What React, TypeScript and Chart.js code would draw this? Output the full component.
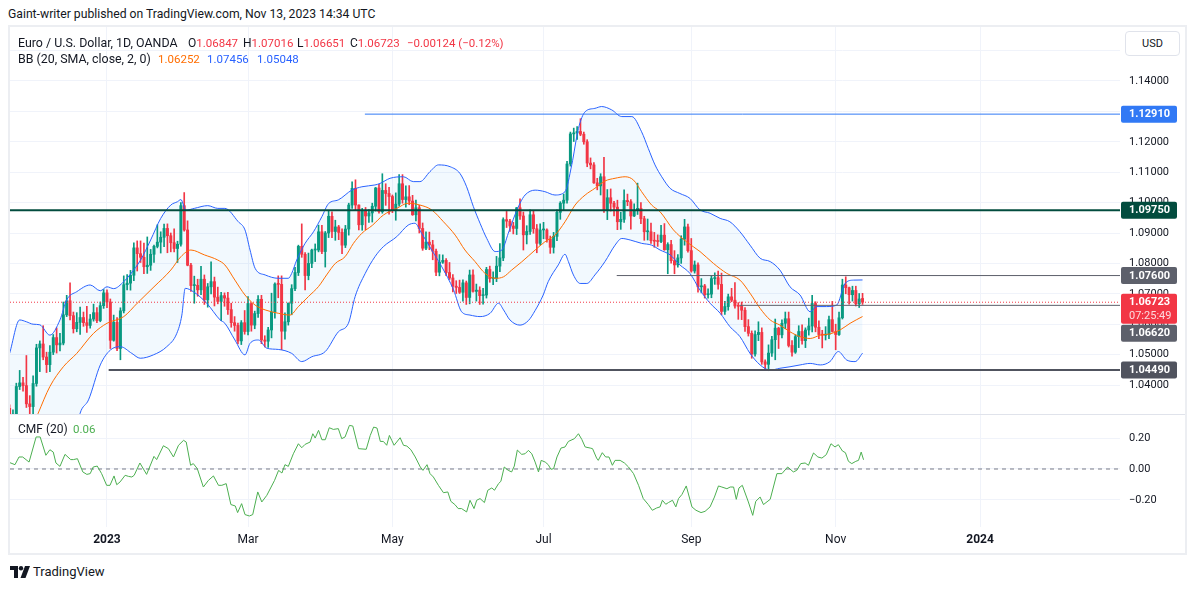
import { useEffect, useRef } from "react";
import { Chart, registerables } from "chart.js";

Chart.register(...registerables);

// daily EUR/USD candles, 21 Nov 2022 .. 13 Nov 2023 (array index = bar index)
const opens = [
  1.0323, 1.0243, 1.0304, 1.0395, 1.0407, 1.0398, 1.0338, 1.0329, 1.0405, 1.0522,
  1.0535, 1.0492, 1.0467, 1.0508, 1.0556, 1.0532, 1.0538, 1.0631, 1.0677, 1.0628,
  1.0585, 1.0606, 1.0622, 1.0605, 1.0596, 1.0617, 1.0638, 1.0612, 1.0661, 1.0703,
  1.0673, 1.0547, 1.0606, 1.052, 1.0644, 1.073, 1.0735, 1.0761, 1.0851, 1.0832,
  1.082, 1.0789, 1.0794, 1.083, 1.0856, 1.087, 1.0886, 1.0915, 1.0891, 1.0868,
  1.0849, 1.0863, 1.099, 1.091, 1.0794, 1.0727, 1.0728, 1.0713, 1.0748, 1.068,
  1.0723, 1.074, 1.0689, 1.0675, 1.0694, 1.0686, 1.0648, 1.0605, 1.0596, 1.0545,
  1.0605, 1.0576, 1.0668, 1.0597, 1.0635, 1.0682, 1.0548, 1.0544, 1.0581, 1.064,
  1.0732, 1.0731, 1.0577, 1.0608, 1.0669, 1.0717, 1.077, 1.0856, 1.083, 1.076,
  1.08, 1.0844, 1.0844, 1.0904, 1.0839, 1.09, 1.0955, 1.0905, 1.092, 1.0902,
  1.086, 1.0913, 1.0992, 1.1047, 1.0992, 1.0927, 1.0972, 1.0956, 1.0966, 1.0988,
  1.1048, 1.097, 1.104, 1.103, 1.102, 1.0976, 1.0995, 1.1062, 1.101, 1.1019,
  1.1005, 1.096, 1.0983, 1.0915, 1.085, 1.087, 1.0861, 1.084, 1.0771, 1.0804,
  1.081, 1.077, 1.0752, 1.0725, 1.0721, 1.0705, 1.0736, 1.0688, 1.0762, 1.0708,
  1.0712, 1.0694, 1.0696, 1.078, 1.075, 1.0751, 1.0791, 1.0818, 1.0944, 1.0939,
  1.0923, 1.0915, 1.0983, 1.0956, 1.0894, 1.0905, 1.096, 1.0914, 1.0866, 1.091,
  1.091, 1.088, 1.0853, 1.0889, 1.0968, 1.0998, 1.1008, 1.1127, 1.1226, 1.1229,
  1.1234, 1.1225, 1.12, 1.113, 1.1124, 1.1065, 1.1055, 1.1085, 1.0977, 1.1016,
  1.0998, 1.0985, 1.0937, 1.0945, 1.1007, 1.1003, 1.0956, 1.0975, 1.0981, 1.0947,
  1.0904, 1.0904, 1.0875, 1.0873, 1.0872, 1.0893, 1.0845, 1.0862, 1.0809, 1.0795,
  1.0818, 1.088, 1.092, 1.0842, 1.0775, 1.0795, 1.0723, 1.0726, 1.0697, 1.0699,
  1.075, 1.0753, 1.0731, 1.0642, 1.0658, 1.069, 1.0679, 1.066, 1.0659, 1.0646,
  1.0592, 1.057, 1.0502, 1.0566, 1.0573, 1.0476, 1.0468, 1.0505, 1.0549, 1.0587,
  1.0565, 1.0603, 1.0618, 1.053, 1.0508, 1.0559, 1.0576, 1.0546, 1.0581, 1.0594,
  1.0668, 1.059, 1.0566, 1.0564, 1.0566, 1.0615, 1.0576, 1.0566, 1.0621, 1.0729,
  1.072, 1.0697, 1.0711, 1.0667, 1.06847,
];
const highs = [
  1.0335, 1.0318, 1.0406, 1.0448, 1.0425, 1.0497, 1.0365, 1.043, 1.0534, 1.0545,
  1.0595, 1.0508, 1.053, 1.0566, 1.0588, 1.057, 1.0673, 1.0695, 1.0736, 1.064,
  1.0638, 1.0656, 1.064, 1.0659, 1.0632, 1.0666, 1.0655, 1.0673, 1.0714, 1.0713,
  1.0683, 1.063, 1.0622, 1.0654, 1.0759, 1.0763, 1.0777, 1.0868, 1.0874, 1.0874,
  1.0867, 1.0887, 1.0846, 1.086, 1.0927, 1.0904, 1.0929, 1.093, 1.09, 1.0914,
  1.0873, 1.1, 1.1033, 1.094, 1.08, 1.0758, 1.0748, 1.079, 1.0762, 1.0734,
  1.0805, 1.0755, 1.0722, 1.0705, 1.0703, 1.0705, 1.0669, 1.0625, 1.0604, 1.0612,
  1.0645, 1.0691, 1.067, 1.0643, 1.0694, 1.0695, 1.0562, 1.059, 1.0702, 1.0736,
  1.0759, 1.0759, 1.0637, 1.067, 1.073, 1.0787, 1.086, 1.093, 1.0836, 1.0834,
  1.0847, 1.0864, 1.0926, 1.0925, 1.0905, 1.0973, 1.097, 1.0942, 1.0925, 1.0914,
  1.0925, 1.0998, 1.1068, 1.1075, 1.0993, 1.0981, 1.0984, 1.0977, 1.0998, 1.105,
  1.106, 1.1095, 1.1062, 1.105, 1.1025, 1.1032, 1.1092, 1.1092, 1.1055, 1.1056,
  1.1024, 1.1008, 1.0991, 1.0933, 1.0904, 1.0903, 1.0876, 1.0847, 1.0829, 1.0828,
  1.0816, 1.0803, 1.0763, 1.0743, 1.0745, 1.0746, 1.0742, 1.0778, 1.0779, 1.0732,
  1.0723, 1.0718, 1.0787, 1.0791, 1.0772, 1.0823, 1.0865, 1.095, 1.0971, 1.0945,
  1.0935, 1.0984, 1.1012, 1.0969, 1.0924, 1.0976, 1.0973, 1.0928, 1.093, 1.0935,
  1.0914, 1.089, 1.0902, 1.0976, 1.1003, 1.1028, 1.1136, 1.1232, 1.1245, 1.125,
  1.1276, 1.1232, 1.1207, 1.1147, 1.1132, 1.108, 1.1095, 1.1149, 1.1043, 1.1045,
  1.1004, 1.1008, 1.0968, 1.1042, 1.1028, 1.101, 1.0996, 1.1064, 1.1, 1.0955,
  1.0946, 1.0933, 1.0902, 1.0894, 1.0925, 1.0931, 1.0868, 1.0876, 1.0842, 1.0829,
  1.0891, 1.0945, 1.0929, 1.0882, 1.0808, 1.0802, 1.075, 1.0731, 1.0716, 1.0759,
  1.0769, 1.0775, 1.0768, 1.0675, 1.0699, 1.0718, 1.0737, 1.0671, 1.0673, 1.0655,
  1.0615, 1.0578, 1.0578, 1.0608, 1.0588, 1.0483, 1.0532, 1.056, 1.0617, 1.059,
  1.0614, 1.064, 1.064, 1.0546, 1.0565, 1.0595, 1.0598, 1.0588, 1.062, 1.0695,
  1.0674, 1.0611, 1.058, 1.0592, 1.0627, 1.0675, 1.06, 1.064, 1.0748, 1.0756,
  1.0722, 1.0725, 1.0725, 1.0701, 1.07016,
];
const lows = [
  1.0223, 1.0226, 1.0286, 1.0385, 1.038, 1.0326, 1.029, 1.0289, 1.0396, 1.0444,
  1.0483, 1.0441, 1.0444, 1.05, 1.0505, 1.0512, 1.0532, 1.0625, 1.0614, 1.0571,
  1.0575, 1.0566, 1.0593, 1.0573, 1.0587, 1.061, 1.0605, 1.0608, 1.0652, 1.0654,
  1.052, 1.0544, 1.0513, 1.0483, 1.0637, 1.0713, 1.0712, 1.0743, 1.0775, 1.0803,
  1.0766, 1.0767, 1.0777, 1.0803, 1.0851, 1.0834, 1.0855, 1.0835, 1.0838, 1.0838,
  1.0803, 1.0857, 1.0906, 1.0792, 1.0708, 1.0669, 1.0692, 1.0697, 1.0665, 1.0656,
  1.07, 1.066, 1.0667, 1.0612, 1.0659, 1.0632, 1.059, 1.0577, 1.0535, 1.0533,
  1.0567, 1.0565, 1.0577, 1.0585, 1.0622, 1.0536, 1.0525, 1.0524, 1.0555, 1.062,
  1.0687, 1.0516, 1.0551, 1.0597, 1.0631, 1.071, 1.076, 1.082, 1.0713, 1.0746,
  1.0786, 1.0806, 1.0838, 1.0832, 1.0788, 1.0885, 1.0885, 1.0876, 1.0878, 1.0832,
  1.0852, 1.0893, 1.0981, 1.0974, 1.091, 1.0909, 1.0911, 1.0935, 1.0936, 1.0972,
  1.0965, 1.0965, 1.0991, 1.0962, 1.0967, 1.0942, 1.0988, 1.0998, 1.0985, 1.0993,
  1.0958, 1.094, 1.09, 1.0843, 1.0845, 1.0845, 1.0812, 1.076, 1.0759, 1.08,
  1.076, 1.0747, 1.0706, 1.0701, 1.0701, 1.0676, 1.0665, 1.0667, 1.0705, 1.0676,
  1.0665, 1.0666, 1.0686, 1.0738, 1.073, 1.074, 1.0773, 1.0809, 1.0918, 1.0905,
  1.0897, 1.0895, 1.0945, 1.0844, 1.0864, 1.0895, 1.0899, 1.0835, 1.086, 1.0881,
  1.087, 1.0833, 1.0834, 1.0875, 1.0945, 1.0976, 1.0998, 1.112, 1.1201, 1.1208,
  1.122, 1.1192, 1.1118, 1.1111, 1.1063, 1.1042, 1.1025, 1.0968, 1.0944, 1.0972,
  1.0956, 1.0911, 1.0912, 1.0935, 1.099, 1.0913, 1.0954, 1.0961, 1.0931, 1.0876,
  1.0877, 1.0866, 1.0853, 1.0856, 1.0868, 1.0843, 1.0766, 1.0801, 1.0766, 1.0788,
  1.08, 1.086, 1.0837, 1.0771, 1.0768, 1.0705, 1.0703, 1.0686, 1.0686, 1.0687,
  1.0731, 1.0715, 1.0631, 1.0632, 1.0646, 1.0674, 1.0653, 1.0616, 1.0615, 1.0576,
  1.0561, 1.0488, 1.0495, 1.0546, 1.0468, 1.0448, 1.0447, 1.0494, 1.0483, 1.052,
  1.0555, 1.0585, 1.0525, 1.0495, 1.0504, 1.0523, 1.0534, 1.0523, 1.0564, 1.0575,
  1.0575, 1.0552, 1.0522, 1.0548, 1.0552, 1.0574, 1.0516, 1.0563, 1.0617, 1.07,
  1.0666, 1.0676, 1.066, 1.0655, 1.06651,
];
const closes = [
  1.0243, 1.0304, 1.0395, 1.0407, 1.0398, 1.0338, 1.0329, 1.0405, 1.0522, 1.0535,
  1.0492, 1.0467, 1.0508, 1.0556, 1.0532, 1.0538, 1.0631, 1.0677, 1.0628, 1.0585,
  1.0606, 1.0622, 1.0605, 1.0596, 1.0617, 1.0638, 1.0612, 1.0661, 1.0703, 1.0673,
  1.0547, 1.0606, 1.052, 1.0644, 1.073, 1.0735, 1.0761, 1.0851, 1.0832, 1.082,
  1.0789, 1.0794, 1.083, 1.0856, 1.087, 1.0886, 1.0915, 1.0891, 1.0868, 1.0849,
  1.0863, 1.099, 1.091, 1.0794, 1.0727, 1.0728, 1.0713, 1.0748, 1.068, 1.0723,
  1.074, 1.0689, 1.0675, 1.0694, 1.0686, 1.0648, 1.0605, 1.0596, 1.0545, 1.0605,
  1.0576, 1.0668, 1.0597, 1.0635, 1.0682, 1.0548, 1.0544, 1.0581, 1.064, 1.0732,
  1.0731, 1.0577, 1.0608, 1.0669, 1.0717, 1.077, 1.0856, 1.083, 1.076, 1.08,
  1.0844, 1.0844, 1.0904, 1.0839, 1.09, 1.0955, 1.0905, 1.092, 1.0902, 1.086,
  1.0913, 1.0992, 1.1047, 1.0992, 1.0927, 1.0972, 1.0956, 1.0966, 1.0988, 1.1048,
  1.097, 1.104, 1.103, 1.102, 1.0976, 1.0995, 1.1062, 1.101, 1.1019, 1.1005,
  1.096, 1.0983, 1.0915, 1.085, 1.087, 1.0861, 1.084, 1.0771, 1.0804, 1.081,
  1.077, 1.0752, 1.0725, 1.0721, 1.0705, 1.0736, 1.0688, 1.0762, 1.0708, 1.0712,
  1.0694, 1.0696, 1.078, 1.075, 1.0751, 1.0791, 1.0818, 1.0944, 1.0939, 1.0923,
  1.0915, 1.0983, 1.0956, 1.0894, 1.0905, 1.096, 1.0914, 1.0866, 1.091, 1.091,
  1.088, 1.0853, 1.0889, 1.0968, 1.0998, 1.1008, 1.1127, 1.1226, 1.1229, 1.1234,
  1.1225, 1.12, 1.113, 1.1124, 1.1065, 1.1055, 1.1085, 1.0977, 1.1016, 1.0998,
  1.0985, 1.0937, 1.0945, 1.1007, 1.1003, 1.0956, 1.0975, 1.0981, 1.0947, 1.0904,
  1.0904, 1.0875, 1.0873, 1.0872, 1.0893, 1.0845, 1.0862, 1.0809, 1.0795, 1.0818,
  1.088, 1.092, 1.0842, 1.0775, 1.0795, 1.0723, 1.0726, 1.0697, 1.0699, 1.075,
  1.0753, 1.0731, 1.0642, 1.0658, 1.069, 1.0679, 1.066, 1.0659, 1.0646, 1.0592,
  1.057, 1.0502, 1.0566, 1.0573, 1.0476, 1.0468, 1.0505, 1.0549, 1.0587, 1.0565,
  1.0603, 1.0618, 1.053, 1.0508, 1.0559, 1.0576, 1.0546, 1.0581, 1.0594, 1.0668,
  1.059, 1.0566, 1.0564, 1.0566, 1.0615, 1.0576, 1.0566, 1.0621, 1.0729, 1.072,
  1.0697, 1.0711, 1.0667, 1.0683, 1.06723,
];

// Bollinger bands (20, 2) as [bar, price]
const bbUpper = [
  [0, 1.0504], [3, 1.0614], [5, 1.0608], [7, 1.06], [9, 1.0598], [12, 1.0564], [15, 1.0614],
  [17, 1.068], [20, 1.0707], [24, 1.0729], [27, 1.071], [29, 1.0723], [31, 1.0717], [34, 1.074],
  [36, 1.0765], [39, 1.0811], [42, 1.0877], [45, 1.0948], [48, 1.0992], [50, 1.1003], [51, 1.101],
  [52.5, 1.0975], [55, 1.0981], [59, 1.099], [62, 1.0981], [64.1, 1.0981], [68.1, 1.0937],
  [70.1, 1.091], [71.6, 1.0844], [73.1, 1.0784], [76.1, 1.0762], [80, 1.0751], [83, 1.0751],
  [84, 1.0767], [85.5, 1.0811], [88, 1.0866], [90.5, 1.0904], [93, 1.0954], [95, 1.0997],
  [97.9, 1.1009], [101.9, 1.1041], [104.9, 1.1052], [108.8, 1.1058], [110.3, 1.1063],
  [113.3, 1.108], [117.3, 1.1085], [120.2, 1.1069], [122.2, 1.1069], [125.2, 1.1102],
  [127.7, 1.1124], [131.2, 1.1118], [134.1, 1.1096], [136.1, 1.1052], [138.1, 1.0987],
  [140.1, 1.0932], [142.1, 1.0882], [144.6, 1.0839], [146.6, 1.0844], [148.5, 1.0899],
  [150.5, 1.096], [152, 1.0998], [153.5, 1.1025], [156.5, 1.1041], [159.4, 1.1036],
  [162.4, 1.1025], [165.4, 1.1036], [167.4, 1.1124], [169.4, 1.1244], [171.4, 1.1299],
  [174.3, 1.131], [176.3, 1.1316], [179.3, 1.1305], [182.3, 1.1283], [185.3, 1.1283],
  [188.2, 1.1233], [190.2, 1.1178], [192.2, 1.1124], [194.2, 1.1085], [196.7, 1.1047],
  [199.6, 1.103], [202.6, 1.1014], [205.6, 1.0976], [208.6, 1.0965], [211.6, 1.0948],
  [214.5, 1.0937], [217.5, 1.0904], [220.5, 1.086], [223.5, 1.0817], [226.5, 1.0806],
  [229.4, 1.0778], [232.4, 1.0723], [235.4, 1.0696], [238.4, 1.0641], [240.4, 1.0658],
  [243.3, 1.0658], [246.3, 1.0663], [248.8, 1.0734], [251.3, 1.0745], [254, 1.07456],
];
const bbBasis = [
  [0, 1.0096], [4, 1.019], [8.5, 1.0307], [12, 1.0395], [16, 1.046], [20, 1.0504], [25, 1.057],
  [29, 1.0603], [34, 1.0625], [38, 1.0669], [43, 1.0723], [48, 1.0778], [51, 1.0822],
  [54, 1.0844], [58, 1.0828], [62, 1.0811], [64.1, 1.0795], [67.1, 1.0745], [70.1, 1.0696],
  [73.1, 1.0663], [76.1, 1.0647], [80, 1.0636], [83.5, 1.063], [86, 1.0658], [89, 1.0691],
  [92, 1.0724], [94.4, 1.0762], [97, 1.08], [99.9, 1.0822], [102.4, 1.0866], [104.9, 1.0899],
  [108, 1.0925], [111.3, 1.0959], [115.3, 1.0981], [118.7, 1.0998], [122.2, 1.0992],
  [125.7, 1.0976], [129.2, 1.0937], [132.7, 1.0893], [135.6, 1.0844], [138.6, 1.0806],
  [141.6, 1.0767], [144.6, 1.0751], [147.1, 1.0756], [149.5, 1.0778], [152.5, 1.0805],
  [156.5, 1.0844], [159.4, 1.0871], [162.4, 1.0893], [165.4, 1.0937], [168.4, 1.0992],
  [171.4, 1.1025], [174.3, 1.1047], [177.3, 1.1071], [180.3, 1.108], [183.3, 1.1085],
  [185.8, 1.1074], [188.2, 1.1036], [191.2, 1.0992], [193.7, 1.097], [197.7, 1.091],
  [201.6, 1.0871], [205.6, 1.0839], [209.6, 1.08], [213.6, 1.0767], [217.5, 1.0745],
  [220.5, 1.0702], [223.5, 1.0652], [226.5, 1.0614], [229.4, 1.0597], [232.4, 1.0575],
  [235.4, 1.0559], [238.4, 1.0553], [241.4, 1.0564], [244.3, 1.0568], [247.3, 1.0581],
  [250.3, 1.0603], [254, 1.06252],
];
const bbLower = [
  [0, 0.969], [5, 0.975], [10, 0.988], [15, 1.005], [19, 1.02], [21, 1.0307], [23.5, 1.0351],
  [27, 1.0466], [30, 1.0515], [33, 1.0526], [36.4, 1.0504], [38.9, 1.0488], [42.8, 1.0499],
  [46.8, 1.0526], [49.8, 1.057], [51.3, 1.063], [52.3, 1.0718], [54.7, 1.0707], [58.7, 1.0669],
  [62.7, 1.0614], [64.1, 1.0603], [67.1, 1.0548], [70.1, 1.0499], [71.6, 1.0537], [74.1, 1.0548],
  [76.6, 1.0521], [80, 1.0517], [84, 1.0504], [87, 1.0477], [90, 1.0493], [94, 1.051],
  [97.9, 1.0575], [100.9, 1.0603], [102.9, 1.0691], [105.9, 1.0767], [108.8, 1.0822],
  [111.3, 1.0855], [115.3, 1.0888], [118.7, 1.0926], [120.7, 1.0932], [122.7, 1.0899],
  [125.7, 1.0844], [128.7, 1.0789], [132.2, 1.0713], [134.6, 1.0641], [137.1, 1.063],
  [140.1, 1.0625], [143.1, 1.0636], [145.6, 1.0669], [147.1, 1.0647], [149, 1.0614],
  [152, 1.0597], [154.5, 1.0612], [156.5, 1.0645], [158.9, 1.0696], [160.4, 1.074],
  [163.4, 1.0795], [165.4, 1.083], [166.4, 1.0806], [167.9, 1.0762], [169.9, 1.0734],
  [171.9, 1.0734], [174.3, 1.0762], [177.3, 1.0806], [180.3, 1.086], [182.3, 1.0882],
  [184.8, 1.0877], [188.2, 1.0866], [191.2, 1.086], [193.7, 1.0844], [196.7, 1.0828],
  [199.6, 1.0795], [202.6, 1.0767], [205.6, 1.0712], [208.6, 1.0669], [211.6, 1.0636],
  [214.5, 1.0592], [217.5, 1.0559], [220.5, 1.0504], [223.5, 1.0466], [226.5, 1.0449],
  [229.4, 1.0455], [232.4, 1.046], [235.4, 1.0466], [238.4, 1.0471], [241.4, 1.0466],
  [244.3, 1.0477], [246.8, 1.051], [249.3, 1.0482], [251.8, 1.0477], [254, 1.05048],
];

// Chaikin Money Flow (20) as [bar, value]
const cmf = [
  [0.1, 0.041], [1.6, 0.028], [2.8, 0.078], [3.9, 0.078], [5.8, 0.045], [7.9, 0.208], [9.1, 0.208],
  [10.8, 0.089], [12, 0.125], [13, 0.11], [13.8, 0.039], [15, 0.017], [16.5, 0.095], [18.2, 0.061],
  [19, 0.061], [20.2, 0.067], [21.8, -0.019], [23, -0.035], [24, -0.03], [24.9, 0.013],
  [26.1, 0.019], [27.4, -0.03], [28.9, -0.106], [29.9, -0.106], [31.1, -0.045], [31.9, -0.102],
  [32.9, -0.084], [34.4, -0.041], [35.4, -0.048], [36.4, -0.052], [37.1, -0.041], [38.8, 0.039],
  [40.8, -0.035], [43, 0.082], [43.8, 0.061], [45.8, 0.151], [47.3, 0.132], [48.8, 0.078],
  [50.3, 0.154], [51.8, 0.186], [52.6, 0.175], [53.9, 0.024], [54.7, 0.035], [55.9, 0.002],
  [57.7, -0.117], [59.2, -0.074], [60.7, -0.045], [62.2, -0.106], [63.2, -0.106], [64.5, -0.095],
  [65.9, -0.231], [67.2, -0.24], [67.9, -0.283], [69.1, -0.225], [70.1, -0.296], [71.4, -0.305],
  [72.4, -0.296], [73.9, -0.149], [75.1, -0.214], [76.6, -0.171], [78.9, -0.074], [80.1, -0.009],
  [81.1, -0.026], [82, 0.028], [83, 0.017], [84.5, 0.099], [86, 0.164], [87, 0.138], [88, 0.16],
  [89.5, 0.175], [90.3, 0.229], [91, 0.201], [92, 0.251], [93, 0.19], [94, 0.19], [95.2, 0.268],
  [96.4, 0.257], [97.9, 0.262], [98.9, 0.197], [99.9, 0.208], [101.2, 0.283], [102.2, 0.279],
  [103.9, 0.132], [106.2, 0.128], [107.4, 0.218], [108.4, 0.272], [109.4, 0.266], [110.4, 0.179],
  [111.3, 0.179], [112.3, 0.154], [113.1, 0.218], [113.8, 0.186], [114.5, 0.154], [116.3, 0.203],
  [117.3, 0.154], [118.3, 0.149], [119.5, 0.125], [120.8, 0.078], [122.3, 0.013], [123.1, -0.009],
  [124.3, 0.028], [125.2, -0.03], [126.2, -0.052], [127.7, -0.106], [129.2, -0.154],
  [130.5, -0.149], [131.4, -0.21], [132.6, -0.231], [133.6, -0.257], [134.6, -0.257],
  [136.1, -0.279], [137.1, -0.203], [138.3, -0.257], [139.1, -0.203], [140.1, -0.192],
  [141.4, -0.218], [142.4, -0.138], [143.6, -0.123], [144.4, -0.138], [145.6, -0.095],
  [146.3, -0.08], [147.3, 0.013], [148.5, -0.009], [149.5, -0.019], [150.3, 0.019], [151.2, 0.123],
  [152.5, 0.095], [153.5, 0.099], [154.5, 0.121], [155.5, 0.099], [156.5, 0.045], [157.5, -0.019],
  [158.3, 0.056], [159.5, 0.045], [160.4, 0.028], [161.2, -0.002], [162, 0.002], [163, 0.078],
  [164.2, 0.136], [165.4, 0.143], [166.4, 0.179], [168.2, 0.197], [169.4, 0.229], [170.4, 0.192],
  [171.4, 0.143], [172.9, 0.136], [173.6, 0.132], [174.8, 0.071], [175.3, 0.056], [176.5, 0.106],
  [177.5, 0.078], [178.5, 0.078], [179.5, 0.024], [180.3, 0.056], [181.8, 0.056], [183.1, 0.039],
  [184.3, 0.013], [185.8, -0.03], [187.3, -0.106], [188.7, -0.192], [190.2, -0.231],
  [191.4, -0.268], [192.7, -0.253], [193.7, -0.246], [194.4, -0.203], [195.4, -0.229],
  [196.2, -0.218], [197.4, -0.203], [198.4, -0.246], [199.2, -0.192], [200.2, -0.166],
  [201.5, -0.11], [203.2, -0.246], [204.4, -0.268], [205.9, -0.283], [207.1, -0.275],
  [208.6, -0.246], [209.9, -0.182], [211.1, -0.11], [212.1, -0.117], [213.6, -0.128],
  [214.6, -0.117], [215.6, -0.117], [216.4, -0.197], [217.2, -0.123], [218.2, -0.106],
  [220, -0.214], [221.3, -0.301], [222.2, -0.21], [223.5, -0.182], [224.5, -0.231],
  [226.5, -0.197], [228.5, -0.03], [230, -0.03], [231.7, 0.013], [233.4, -0.019], [234.4, -0.009],
  [235.6, 0.035], [236.9, 0.039], [237.9, 0.024], [239.4, 0.104], [240.7, 0.078], [241.9, 0.071],
  [243.2, 0.093], [244.6, 0.164], [245.8, 0.143], [246.8, 0.158], [248, 0.117], [248.9, 0.106],
  [249.8, 0.05], [250.8, 0.035], [252, 0.05], [252.8, 0.056], [253.6, 0.11], [254.3, 0.06],
];

// horizontal levels drawn on the chart, and the bar each one starts from
const levelValues = [1.1291, 1.0975, 1.076, 1.0662, 1.0449];
const levelStarts = [105.8, 0, 180.8, 217.5, 29.5];
const lastPrice = 1.06723;
const countdown = "07:25:49";

const priceTicks = [1.04, 1.05, 1.06, 1.07, 1.08, 1.09, 1.1, 1.11, 1.12, 1.13, 1.14, 1.15];
const cmfTicks = [0.2, 0, -0.2];
const cmfTickLabels = ["0.20", "0.00", "\u22120.20"];
const monthTicks = [29, 71, 114, 159, 203, 246, 289];
const monthLabels = ["2023", "Mar", "May", "Jul", "Sep", "Nov", "2024"];

const X_MIN = 0.119;
const X_MAX = 330.67;
const P_MIN = 1.030461;
const P_MAX = 1.157763;
const C_MIN = -0.3766;
const C_MAX = 0.3506;

const FONT = "Roboto, sans-serif";
const TEXT = "#131722";
const GRID = "#f0f3fa";
const UP = "#089981";
const DOWN = "#f23645";
const BLUE = "#2962ff";
const ORANGE = "#ff6d00";
const CMF_GREEN = "#4caf50";
const levelStyles = [
  { color: "#3179f5", width: 1 },
  { color: "#024c3e", width: 2 },
  { color: "#5d606b", width: 1 },
  { color: "#5d606b", width: 1 },
  { color: "#50535e", width: 2 },
];

Chart.defaults.font.family = FONT;

const monthAxis = (height: number, showLabels: boolean) => ({
  type: "linear" as const,
  min: X_MIN,
  max: X_MAX,
  offset: false,
  afterBuildTicks: (a: any) => {
    a.ticks = monthTicks.map((value) => ({ value }));
  },
  afterFit: (a: any) => {
    a.height = height;
    a.paddingLeft = 0;
    a.paddingRight = 0;
  },
  ticks: {
    display: showLabels,
    padding: 6,
    color: TEXT,
    maxRotation: 0,
    autoSkip: false,
    font: (c: any) => ({ size: 12, weight: /^\d/.test(monthLabels[c.index] || "") ? "bold" : "normal" }),
    callback: (_v: any, i: number) => monthLabels[i],
  },
  grid: { color: GRID, drawTicks: false, offset: false },
  border: { display: false },
});

const rightAxis = (min: number, max: number, ticks: number[], label: (v: number, i: number) => string) => ({
  position: "right" as const,
  min,
  max,
  beginAtZero: false,
  afterBuildTicks: (a: any) => {
    a.ticks = ticks.map((value) => ({ value }));
  },
  afterFit: (a: any) => {
    a.width = 65;
    a.paddingTop = 0;
    a.paddingBottom = 0;
  },
  ticks: {
    padding: 9,
    color: TEXT,
    font: { size: 11 },
    callback: (v: any, i: number) => label(Number(v), i),
  },
  grid: { color: GRID, drawTicks: false },
  border: { display: false },
});

const tagPlugin = {
  id: "priceTags",
  afterDraw(chart: any) {
    const { ctx, chartArea } = chart;
    const y = chart.scales.y;
    const tags = [
      ...levelValues.map((v, k) => ({ v, bg: levelStyles[k].color, two: false })),
      { v: lastPrice, bg: DOWN, two: true },
    ].sort((a, b) => b.v - a.v);
    const left = chartArea.right + 1;
    let floor = -Infinity;
    ctx.save();
    ctx.textBaseline = "middle";
    for (const t of tags) {
      const h = t.two ? 30 : 17;
      const top = Math.max(y.getPixelForValue(t.v) - 8.5, floor + 1);
      ctx.fillStyle = t.bg;
      ctx.beginPath();
      ctx.roundRect(left, top, 56, h, 2);
      ctx.fill();
      ctx.fillStyle = "#ffffff";
      ctx.font = `bold 11px ${FONT}`;
      ctx.fillText(t.v.toFixed(5), left + 8, top + 9);
      if (t.two) {
        ctx.font = `11px ${FONT}`;
        ctx.fillStyle = "rgba(255,255,255,0.82)";
        ctx.fillText(countdown, left + 8, top + 22.5);
      }
      floor = top + h;
    }
    ctx.restore();
  },
};

function PriceChart() {
  const ref = useRef<HTMLCanvasElement | null>(null);
  useEffect(() => {
    if (!ref.current) return;
    const colors = closes.map((c, i) => (c >= opens[i] ? UP : DOWN));
    const line = (pts: number[][]) => pts.map(([x, y]) => ({ x, y }));
    const chart = new Chart(ref.current, {
      type: "bar",
      data: {
        datasets: [
          {
            type: "line",
            data: line(bbUpper),
            borderColor: BLUE,
            borderWidth: 1,
            pointRadius: 0,
            cubicInterpolationMode: "monotone",
            fill: { target: 1, above: "rgba(33,150,243,0.06)", below: "rgba(33,150,243,0.06)" },
            order: 1,
          },
          {
            type: "line",
            data: line(bbLower),
            borderColor: BLUE,
            borderWidth: 1,
            pointRadius: 0,
            cubicInterpolationMode: "monotone",
            order: 1,
          },
          {
            type: "line",
            data: line(bbBasis),
            borderColor: ORANGE,
            borderWidth: 1,
            pointRadius: 0,
            cubicInterpolationMode: "monotone",
            order: 1,
          },
          {
            data: closes.map((_c, i) => ({ x: i, y: [lows[i], highs[i]] })),
            backgroundColor: colors,
            grouped: false,
            categoryPercentage: 1,
            barPercentage: 1,
            maxBarThickness: 1,
            order: 3,
          },
          {
            data: closes.map((c, i) => ({ x: i, y: [opens[i], c] })),
            backgroundColor: colors,
            grouped: false,
            categoryPercentage: 1,
            barPercentage: 1,
            maxBarThickness: 2.3,
            minBarLength: 1,
            order: 2,
          },
          ...levelValues.map((v, k) => ({
            type: "line",
            data: [
              { x: levelStarts[k], y: v },
              { x: X_MAX, y: v },
            ],
            borderColor: levelStyles[k].color,
            borderWidth: levelStyles[k].width,
            pointRadius: 0,
            order: 0,
          })),
          {
            type: "line",
            data: [
              { x: X_MIN, y: lastPrice },
              { x: X_MAX, y: lastPrice },
            ],
            borderColor: DOWN,
            borderWidth: 1,
            borderDash: [1, 2],
            pointRadius: 0,
            order: 0,
          },
        ] as any,
      },
      options: {
        responsive: false,
        animation: false,
        events: [],
        layout: { padding: 0 },
        plugins: { legend: { display: false }, tooltip: { enabled: false }, filler: { drawTime: "beforeDatasetsDraw" } } as any,
        scales: {
          x: monthAxis(0, false) as any,
          y: rightAxis(P_MIN, P_MAX, priceTicks, (v) => (v > 1.145 ? "" : v.toFixed(5))) as any,
        },
      },
      plugins: [tagPlugin],
    });
    return () => chart.destroy();
  }, []);
  return <canvas ref={ref} width={1175} height={387} style={{ position: "absolute", left: 10, top: 27 }} />;
}

function CmfChart() {
  const ref = useRef<HTMLCanvasElement | null>(null);
  useEffect(() => {
    if (!ref.current) return;
    const chart = new Chart(ref.current, {
      type: "line",
      data: {
        datasets: [
          {
            data: cmf.map(([x, y]) => ({ x, y })),
            borderColor: CMF_GREEN,
            borderWidth: 1,
            pointRadius: 0,
          },
          {
            data: [
              { x: X_MIN, y: 0 },
              { x: X_MAX, y: 0 },
            ],
            borderColor: "#787b86",
            borderWidth: 1,
            borderDash: [4, 4],
            pointRadius: 0,
          },
        ],
      },
      options: {
        responsive: false,
        animation: false,
        events: [],
        layout: { padding: 0 },
        plugins: { legend: { display: false }, tooltip: { enabled: false } },
        scales: {
          x: monthAxis(26, true) as any,
          y: rightAxis(C_MIN, C_MAX, cmfTicks, (_v, i) => cmfTickLabels[i]) as any,
        },
      },
    });
    return () => chart.destroy();
  }, []);
  return <canvas ref={ref} width={1175} height={138} style={{ position: "absolute", left: 10, top: 415 }} />;
}

const Txt = ({ x, y, color = TEXT, size = 12, children }: any) => (
  <span
    style={{
      position: "absolute",
      left: x,
      top: y,
      color,
      fontSize: size,
      lineHeight: "16px",
      whiteSpace: "nowrap",
    }}
  >
    {children}
  </span>
);

const Num = ({ children }: any) => <span style={{ color: DOWN, fontSize: 11.5 }}>{children}</span>;

export default function App() {
  return (
    <div
      style={{
        position: "fixed",
        left: 0,
        top: 0,
        width: 1195,
        height: 589,
        background: "#ffffff",
        fontFamily: FONT,
        color: TEXT,
        overflow: "hidden",
      }}
    >
      <Txt x={8} y={6} size={12.2}>
        Gaint-writer published on TradingView.com, Nov 13, 2023 14:34 UTC
      </Txt>
      <div
        style={{
          position: "absolute",
          left: 8,
          top: 25,
          width: 1179,
          height: 530,
          border: "2px solid #eceef2",
          boxSizing: "border-box",
        }}
      />
      <PriceChart />
      <div style={{ position: "absolute", left: 10, top: 414, width: 1175, height: 1, background: "#e0e3eb" }} />
      <CmfChart />

      <Txt x={18} y={35} size={12.4}>Euro / U.S. Dollar, 1D, OANDA</Txt>
      <Txt x={188} y={35}>
        O<Num>1.06847</Num>
      </Txt>
      <Txt x={243} y={35}>
        H<Num>1.07016</Num>
      </Txt>
      <Txt x={297} y={35}>
        L<Num>1.06651</Num>
      </Txt>
      <Txt x={350} y={35}>
        C<Num>1.06723</Num>
      </Txt>
      <Txt x={407} y={35} color={DOWN} size={11.5}>
        {"\u22120.00124 (\u22120.12%)"}
      </Txt>

      <Txt x={18} y={51} size={12.4}>BB (20, SMA, close, 2, 0)</Txt>
      <Txt x={158} y={51} color={ORANGE} size={11.5}>1.06252</Txt>
      <Txt x={207} y={51} color={BLUE} size={11.5}>1.07456</Txt>
      <Txt x={257} y={51} color={BLUE} size={11.5}>1.05048</Txt>

      <Txt x={18} y={421}>CMF (20)</Txt>
      <Txt x={73} y={421} color={CMF_GREEN} size={11.5}>0.06</Txt>

      <div
        style={{
          position: "absolute",
          left: 1125,
          top: 31,
          width: 55,
          height: 25,
          border: "1px solid #e0e3eb",
          borderRadius: 4,
          boxSizing: "border-box",
          background: "#fff",
          fontSize: 11,
          lineHeight: "23px",
          textAlign: "center",
          color: TEXT,
        }}
      >
        USD
      </div>

      <svg style={{ position: "absolute", left: 10, top: 566 }} width={20} height={12} viewBox="0 0 20 12">
        <path d="M0 0H8V12H4V4H0Z" fill="#131722" />
        <circle cx={11} cy={2.2} r={2.2} fill="#131722" />
        <path d="M15 0H20L15.5 12H10.5Z" fill="#131722" />
      </svg>
      <Txt x={33} y={564} size={13}>TradingView</Txt>
    </div>
  );
}
